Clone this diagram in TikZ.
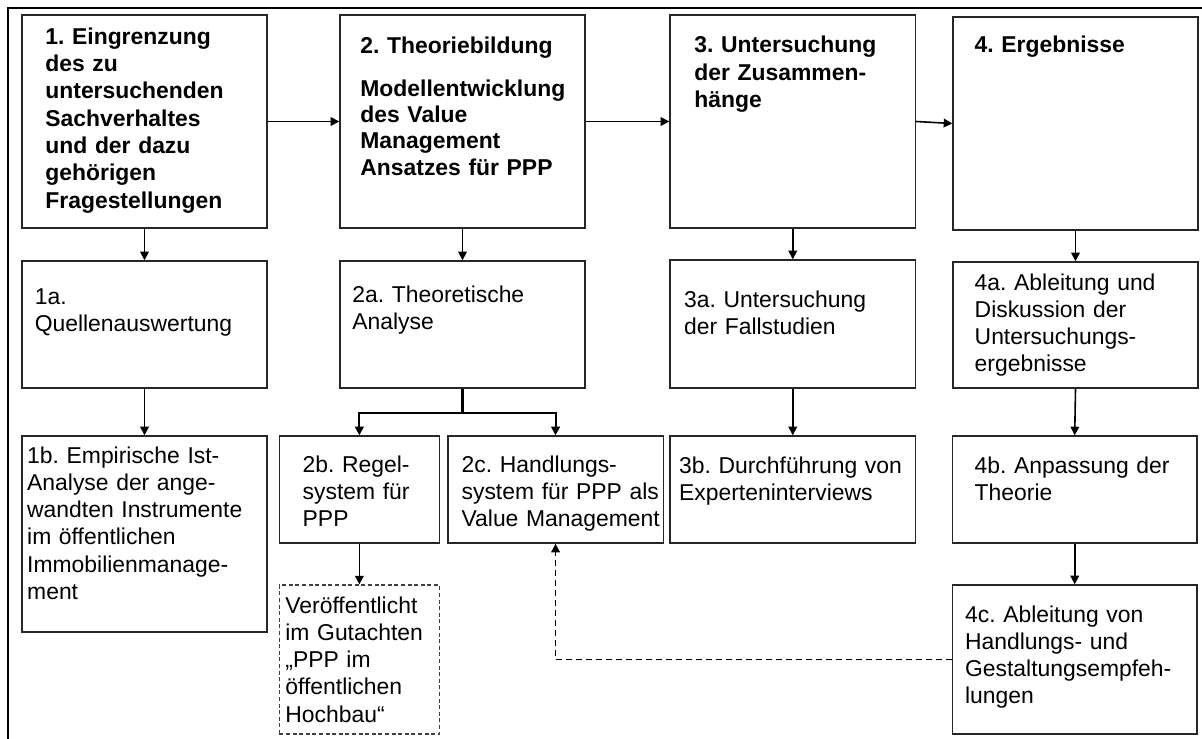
\documentclass[tikz,border=0pt]{standalone}
\usepackage{fontspec}
\setmainfont{Liberation Sans}
\usetikzlibrary{arrows.meta,fit}
\frenchspacing
\newcommand\mkbox[6][box]{%
  \coordinate (#2-a) at (#3,#4);
  \coordinate (#2-b) at (#5,#6);
  \node[#1, fit=(#2-a)(#2-b)] (#2) {};}
\begin{document}
\begin{tikzpicture}[x=0.5pt,y=-0.5pt,
  box/.style={draw=black!85, line width=0.7pt, inner sep=0pt},
  dbox/.style={draw=black!75, line width=0.6pt, dash pattern=on 2pt off 1.3pt, inner sep=0pt},
  txt/.style={anchor=base west, inner sep=0pt, text width=118pt, align=left,
    font=\fontsize{11.45pt}{13.65pt}\selectfont\frenchspacing},
  arr/.style={line width=0.8pt, -{Triangle[length=4.3pt,width=4.3pt]}},
  brarr/.style={arr, line width=1.05pt},
  darr/.style={arr, dash pattern=on 3pt off 2pt}]
\useasboundingbox (0,0) rectangle (1202,738);
\fill[white] (0,0) rectangle (1202,738);
% outer frame (left and top edges visible)
\draw[line width=1.3pt] (8,745) -- (8,8) -- (1210,8);

% row 1
\mkbox{b1}{22}{15}{267}{228}
\mkbox{b2}{340}{15}{585}{228}
\mkbox{b3}{670}{15}{915.5}{228}
\mkbox{b4}{953}{17}{1198}{230}
% row 2
\mkbox{b1a}{22}{261}{267}{388}
\mkbox{b2a}{340}{261}{585}{388}
\mkbox{b3a}{670}{260}{915.5}{388}
\mkbox{b4a}{953}{262}{1198}{388}
% row 3
\mkbox{b1b}{22}{436}{267}{632}
\mkbox{b2b}{279.4}{436}{439.3}{543}
\mkbox{b2c}{447.8}{436}{663.3}{543}
\mkbox{b3b}{670}{436}{915.5}{543}
\mkbox{b4b}{952.4}{436}{1197}{543}
\mkbox{b4c}{952.4}{585}{1197}{734}
\mkbox[dbox]{bd}{279.4}{585}{439.3}{734}

% texts
\node[txt] (t1) at (45,44.3) {\bfseries 1. Eingrenzung\\des zu\\untersuchenden\\Sachverhaltes\\und der dazu\\gehörigen\\Fragestellungen};
\node[txt, font=\fontsize{11.45pt}{13.05pt}\selectfont\frenchspacing] (t2) at (360,53.3) {\bfseries 2. Theoriebildung\\[8.65pt]Modellentwicklung\\des Value\\Management\\Ansatzes für PPP};
\node[txt] (t3) at (694,53) {\bfseries 3. Untersuchung\\der Zusammen-\\hänge};
\node[txt] (t4) at (974.3,53) {\bfseries 4. Ergebnisse};

\node[txt] (t1a) at (34.4,304) {1a.\\Quellenauswertung};
\node[txt] (t2a) at (352,302) {2a. Theoretische\\Analyse};
\node[txt] (t3a) at (683.7,307) {3a. Untersuchung\\der Fallstudien};
\node[txt] (t4a) at (974.3,290) {4a. Ableitung und\\Diskussion der\\Untersuchungs-\\ergebnisse};

\node[txt] (t1b) at (26.8,463) {1b. Empirische Ist-\\Analyse der ange-\\wandten Instrumente\\im öffentlichen\\Immobilienmanage-\\ment};
\node[txt] (t2b) at (302.3,472) {2b. Regel-\\system für\\PPP};
\node[txt] (t2c) at (461.2,472) {2c. Handlungs-\\system für PPP als\\Value Management};
\node[txt] (t3b) at (678.7,473) {3b. Durchführung von\\Experteninterviews};
\node[txt] (t4b) at (974.3,473) {4b. Anpassung der\\Theorie};
\node[txt] (t4c) at (964.7,622) {4c. Ableitung von\\Handlungs- und\\Gestaltungsempfeh-\\lungen};
\node[txt] (td) at (285,613) {Veröffentlicht\\im Gutachten\\„PPP im\\öffentlichen\\Hochbau“};

% connectors
\draw[arr] (b1) -- (b2);
\draw[arr] (b2) -- (b3);
\draw[arr] (b3.east) -- (b4.west);
\draw[arr] (b1.south) -- (b1a.north);
\draw[arr] (b2.south) -- (b2a.north);
\draw[arr] (b3.south) -- (b3a.north);
\draw[arr] (b4.south) -- (b4a.north);
\draw[arr] (b1a.south) -- (b1b.north);
\draw[brarr] (b2a.south) -- ++(0,24) coordinate (br) -| (b2b.north);
\draw[brarr] (br) -| (b2c.north);
\draw[arr] (b3a.south) -- (b3b.north);
\draw[arr] (b4a.south) -- (b4b.north);
\draw[arr] (b4b.south) -- (b4c.north);
\draw[arr] (b2b.south) -- (bd.north);
\draw[darr] (b4c.west) -| (b2c.south);
\end{tikzpicture}
\end{document}
